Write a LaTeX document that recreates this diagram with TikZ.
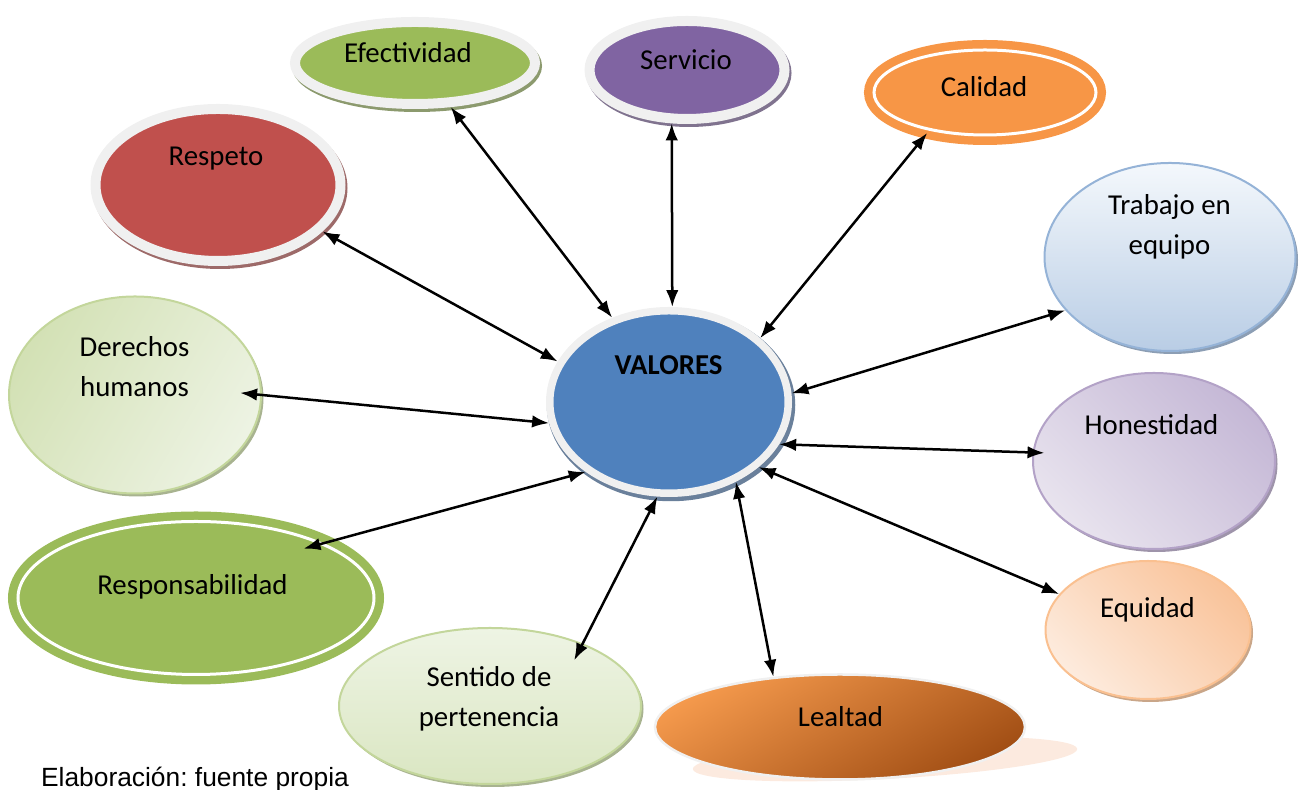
\documentclass[tikz,border=0pt]{standalone}
\usepackage{fontspec}
\setmainfont{Carlito}
\newfontfamily\capfont{Liberation Sans}
\usetikzlibrary{shapes.geometric,arrows.meta}

\definecolor{verde}{HTML}{9BBB59}
\definecolor{morado}{HTML}{8064A2}
\definecolor{naranja}{HTML}{F79646}
\definecolor{rojo}{HTML}{C0504D}
\definecolor{azul}{HTML}{4F81BD}
\definecolor{marco}{HTML}{F0F0F0}
\definecolor{celesteA}{HTML}{F4F8FC}
\definecolor{celesteB}{HTML}{B9CDE5}
\definecolor{celesteC}{HTML}{95B3D7}
\definecolor{pistachoA}{HTML}{D3E1B5}
\definecolor{pistachoB}{HTML}{EDF3E3}
\definecolor{pistachoC}{HTML}{C3D69B}
\definecolor{lilaA}{HTML}{C5B8D6}
\definecolor{lilaB}{HTML}{E8E3EE}
\definecolor{lilaC}{HTML}{B3A2C7}
\definecolor{durazA}{HTML}{F9C39A}
\definecolor{durazB}{HTML}{FDEBDD}
\definecolor{durazC}{HTML}{FAC090}
\definecolor{mentaA}{HTML}{EEF4E4}
\definecolor{mentaB}{HTML}{DAE6C2}
\definecolor{sombra}{HTML}{FCEADF}
\definecolor{lealA}{HTML}{F4994C}
\definecolor{lealB}{HTML}{A24F15}

\tikzset{
  framed/.style={ellipse, fill=#1, draw=marco, line width=0.2cm,
    preaction={draw=#1!45!gray, line width=0.2cm, transform canvas={xshift=0.04cm,yshift=-0.06cm}}},
  ringed/.style={ellipse, fill=#1, draw=#1, line width=0.17cm, double=white, double distance=0.06cm},
  soft/.style n args={4}{ellipse, draw=#3, line width=0.04cm, top color=#1, bottom color=#2, shading angle=#4,
    preaction={fill=#3!60!gray, transform canvas={xshift=0.05cm,yshift=-0.06cm}}},
  lbl/.style={font=\fontsize{16.4}{23}\selectfont, anchor=base, align=center, inner sep=0pt},
  rel/.style={{Latex[length=0.34cm,width=0.25cm]}-{Latex[length=0.34cm,width=0.25cm]}, line width=0.05cm}
}

\begin{document}
\begin{tikzpicture}
\useasboundingbox (0,0) rectangle (26.06,15.8);

% fila de arriba
\node[framed=verde, minimum width=4.8cm, minimum height=1.64cm] (efectividad) at (8.3,14.54) {};
\node[lbl] (efectividadT) at (8.16,14.54) {Efectividad};
\node[framed=morado, minimum width=3.9cm, minimum height=1.96cm] (servicio) at (13.74,14.4) {};
\node[lbl] (servicioT) at (13.72,14.4) {Servicio};
\node[ringed=naranja, minimum width=4.44cm, minimum height=1.7cm] (calidad) at (19.7,13.95) {};
\node[lbl] (calidadT) at (19.68,13.87) {Calidad};
\node[framed=rojo, minimum width=4.9cm, minimum height=3.04cm] (respeto) at (4.36,12.1) {};
\node[lbl] (respetoT) at (4.32,12.48) {Respeto};
\node[soft={celesteA}{celesteB}{celesteC}{0}, minimum width=5.02cm, minimum height=3.76cm] (trabajo) at (23.4,10.66) {};
\node[lbl] (trabajoT) at (23.39,10.7) {Trabajo en\\equipo};

% centro
\node[framed=azul, line width=0.15cm, minimum width=4.77cm, minimum height=3.65cm] (valores) at (13.38,7.76) {};
\node[lbl, font=\fontsize{16.4}{23}\selectfont\bfseries] (valoresT) at (13.37,8.3) {VALORES};

% lados
\node[soft={pistachoA}{pistachoB}{pistachoC}{60}, minimum width=5.04cm, minimum height=3.94cm] (derechos) at (2.7,7.9) {};
\node[lbl] (derechosT) at (2.69,7.87) {Derechos\\humanos};
\node[soft={lilaA}{lilaB}{lilaC}{-45}, minimum width=4.84cm, minimum height=3.52cm] (honestidad) at (23.08,6.58) {};
\node[lbl] (honestidadT) at (23.03,7.1) {Honestidad};
\node[ringed=verde, minimum width=7.12cm, minimum height=3.06cm] (responsabilidad) at (3.92,3.84) {};
\node[lbl] (responsabilidadT) at (3.85,3.9) {Responsabilidad};
\node[soft={durazA}{durazB}{durazC}{-45}, minimum width=4.1cm, minimum height=2.76cm] (equidad) at (22.96,3.2) {};
\node[lbl] (equidadT) at (22.95,3.44) {Equidad};

% fila de abajo
\node[soft={mentaA}{mentaB}{pistachoC}{0}, minimum width=6.04cm, minimum height=3.12cm] (sentido) at (9.8,1.68) {};
\node[lbl] (sentidoT) at (9.78,1.26) {Sentido de\\pertenencia};
\fill[sombra, rotate around={3:(17.7,0.62)}] (17.7,0.62) ellipse (3.85cm and 0.4cm);
\node[ellipse, draw=marco, line width=0.05cm, top color=lealA, bottom color=lealB, shading angle=30,
  minimum width=7.4cm, minimum height=2.1cm] (lealtad) at (16.8,1.26) {};
\node[lbl] (lealtadT) at (16.81,1.27) {Lealtad};

% flechas
\draw[rel] (valores.124.5) -- (efectividad.309.4);
\draw[rel] (valores.88.2) -- (servicio.254.8);
\draw[rel] (valores.35) -- (calidad.215.7);
\draw[rel] (valores.160.9) -- (respeto.336.8);
\draw[rel] (valores.4.7) -- (trabajo.207.9);
\draw[rel, shorten >=-0.44cm] (valores.190.4) -- (derechos.0);
\draw[rel, shorten >=-0.24cm] (valores.339.4) -- (honestidad.176.1);
\draw[rel, shorten >=-0.5cm] (valores.220) -- (responsabilidad.23.8);
\draw[rel] (valores.324.9) -- (equidad.158.4);
\draw[rel, shorten >=-0.38cm] (valores.263) -- (sentido.34.1);
\draw[rel] (valores.310.1) -- (lealtad.143.6);

\node[font=\capfont\fontsize{15}{18}\selectfont, anchor=base, inner sep=0pt] (fuente) at (3.9,0.06) {Elaboración:\ fuente propia};
\end{tikzpicture}
\end{document}
